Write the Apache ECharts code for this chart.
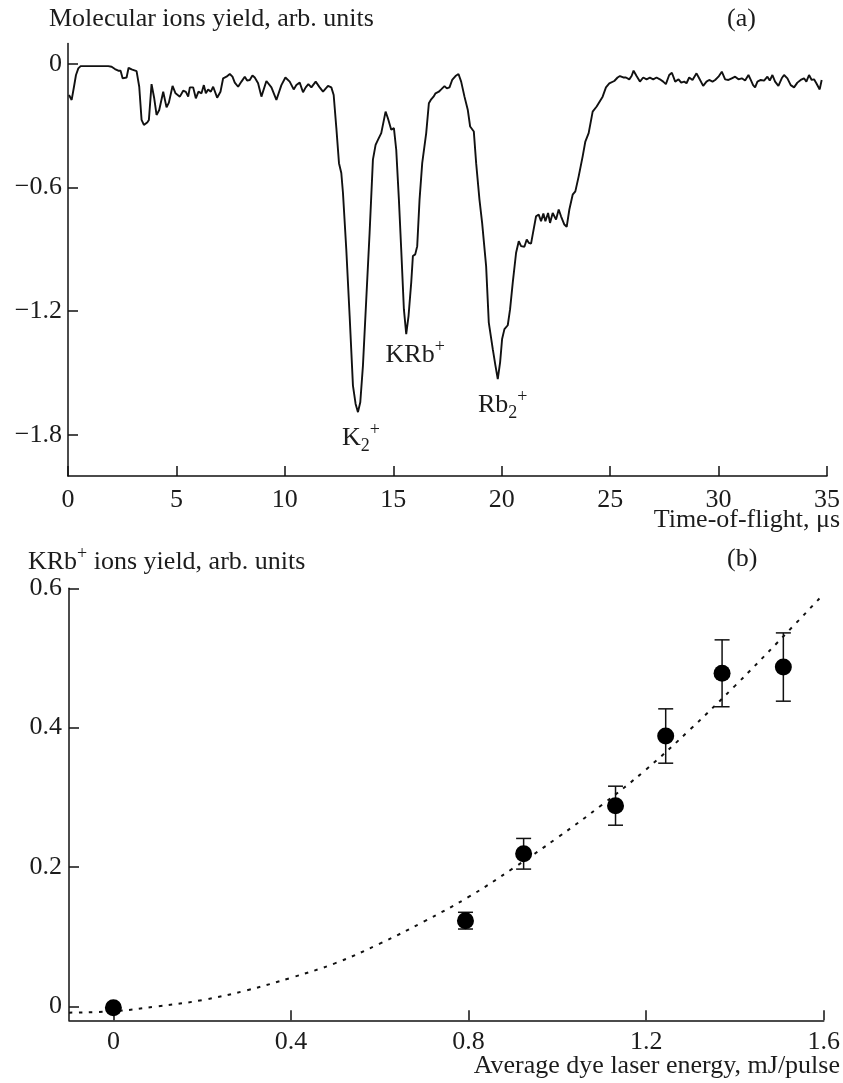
<!DOCTYPE html>
<html>
<head>
<meta charset="utf-8">
<script src="https://cdn.jsdelivr.net/npm/echarts@6/dist/echarts.min.js"></script>
<style>
  html, body { margin: 0; padding: 0; background: #fff; }
  #chart { width: 843px; height: 1083px; }
</style>
</head>
<body>
<div id="chart"></div>
<script>
// ---- (a) time-of-flight spectrum of molecular ions ----
const tofTime = [
  0.046, 0.169, 0.276, 0.368, 0.476, 0.583, 1.857, 2.011, 2.165, 2.318, 2.425, 2.518, 2.610, 2.702, 2.794, 2.932,
  3.162, 3.285, 3.393, 3.500, 3.654, 3.730, 3.853, 3.976, 4.084, 4.207, 4.391, 4.544, 4.652, 4.821, 4.959, 5.158,
  5.312, 5.435, 5.542, 5.619, 5.772, 5.895, 6.018, 6.156, 6.264, 6.356, 6.463, 6.586, 6.694, 6.878, 7.031, 7.154,
  7.308, 7.461, 7.584, 7.691, 7.845, 7.998, 8.152, 8.259, 8.382, 8.505, 8.612, 8.766, 8.919, 9.149, 9.380, 9.610,
  9.840, 10.025, 10.224, 10.408, 10.531, 10.685, 10.838, 10.961, 11.084, 11.222, 11.422, 11.606, 11.760, 11.990,
  12.143, 12.251, 12.374, 12.496, 12.603, 12.680, 12.833, 12.987, 13.140, 13.263, 13.371, 13.478, 13.601, 13.754,
  13.908, 14.061, 14.184, 14.292, 14.445, 14.645, 14.752, 14.906, 15.029, 15.136, 15.259, 15.366, 15.489, 15.597,
  15.704, 15.827, 15.904, 16.011, 16.103, 16.211, 16.334, 16.518, 16.641, 16.748, 16.856, 16.948, 17.101, 17.209,
  17.362, 17.470, 17.592, 17.715, 17.869, 18.007, 18.130, 18.283, 18.437, 18.544, 18.713, 18.821, 18.974, 19.097,
  19.281, 19.404, 19.588, 19.711, 19.818, 19.926, 20.018, 20.125, 20.279, 20.386, 20.509, 20.663, 20.786, 20.893,
  21.046, 21.154, 21.246, 21.353, 21.430, 21.584, 21.707, 21.814, 21.921, 22.014, 22.137, 22.228, 22.351, 22.505,
  22.628, 22.735, 22.889, 22.996, 23.119, 23.272, 23.395, 23.549, 23.733, 23.856, 24.009, 24.194, 24.378, 24.654,
  24.807, 24.961, 25.191, 25.344, 25.452, 25.605, 25.728, 25.882, 25.989, 26.081, 26.219, 26.373, 26.526, 26.680,
  26.833, 26.987, 27.140, 27.294, 27.447, 27.570, 27.724, 27.847, 28.000, 28.154, 28.276, 28.415, 28.522, 28.645,
  28.798, 28.983, 29.105, 29.290, 29.443, 29.566, 29.720, 29.842, 29.996, 30.149, 30.303, 30.456, 30.610, 30.764,
  30.917, 31.070, 31.224, 31.378, 31.485, 31.592, 31.684, 31.792, 31.945, 32.099, 32.252, 32.360, 32.483, 32.606,
  32.759, 32.913, 33.020, 33.174, 33.327, 33.481, 33.634, 33.788, 33.941, 34.049, 34.172, 34.294, 34.402, 34.509,
  34.601, 34.663, 34.755
];
const tofSignal = [
  -0.150, -0.174, -0.110, -0.053, -0.021, -0.010, -0.010, -0.013, -0.024, -0.032, -0.032, -0.069, -0.077, -0.065, -0.018, -0.026,
  -0.034, -0.110, -0.271, -0.295, -0.284, -0.271, -0.097, -0.166, -0.247, -0.223, -0.134, -0.210, -0.187, -0.106, -0.142, -0.158,
  -0.129, -0.135, -0.158, -0.113, -0.113, -0.166, -0.134, -0.142, -0.102, -0.142, -0.123, -0.134, -0.110, -0.163, -0.134, -0.069,
  -0.061, -0.048, -0.061, -0.090, -0.110, -0.085, -0.061, -0.080, -0.077, -0.055, -0.065, -0.093, -0.158, -0.082, -0.113, -0.174,
  -0.102, -0.065, -0.085, -0.123, -0.102, -0.090, -0.137, -0.113, -0.097, -0.113, -0.085, -0.113, -0.134, -0.106,
  -0.113, -0.150, -0.310, -0.481, -0.529, -0.626, -0.900, -1.222, -1.561, -1.650, -1.690, -1.642, -1.464, -1.142,
  -0.819, -0.464, -0.392, -0.368, -0.335, -0.231, -0.263, -0.319, -0.311, -0.416, -0.658, -0.900, -1.190, -1.311,
  -1.222, -1.061, -0.932, -0.924, -0.884, -0.658, -0.481, -0.335, -0.190, -0.171, -0.158, -0.142, -0.134, -0.123,
  -0.107, -0.118, -0.113, -0.077, -0.058, -0.048, -0.085, -0.158, -0.223, -0.303, -0.327, -0.481, -0.658, -0.771,
  -0.981, -1.255, -1.384, -1.464, -1.529, -1.448, -1.335, -1.287, -1.268, -1.190, -1.061, -0.916, -0.860, -0.884,
  -0.887, -0.852, -0.868, -0.872, -0.827, -0.739, -0.731, -0.763, -0.726, -0.763, -0.723, -0.771, -0.723, -0.755,
  -0.706, -0.739, -0.779, -0.790, -0.706, -0.634, -0.618, -0.545, -0.448, -0.376, -0.335, -0.231, -0.206, -0.158,
  -0.113, -0.094, -0.082, -0.065, -0.058, -0.065, -0.065, -0.074, -0.058, -0.032, -0.058, -0.085, -0.065, -0.074,
  -0.066, -0.074, -0.065, -0.074, -0.085, -0.097, -0.053, -0.042, -0.085, -0.074, -0.090, -0.085, -0.093, -0.065,
  -0.077, -0.045, -0.069, -0.106, -0.085, -0.077, -0.085, -0.077, -0.061, -0.037, -0.074, -0.077, -0.069, -0.061,
  -0.074, -0.069, -0.080, -0.053, -0.077, -0.102, -0.113, -0.085, -0.077, -0.080, -0.061, -0.080, -0.053, -0.085,
  -0.106, -0.069, -0.053, -0.069, -0.102, -0.113, -0.090, -0.077, -0.069, -0.085, -0.053, -0.077, -0.074, -0.093,
  -0.085, -0.123, -0.077
];
const tofXTicks = [0, 5, 10, 15, 20, 25, 30, 35];
const tofYTicks = [0, -0.6, -1.2, -1.8];

// peak minima of the three molecular ions
const peakTime = [13.371, 15.597, 19.818];
const peakSignal = [-1.690, -1.311, -1.529];

// ---- (b) KRb+ yield vs dye laser energy ----
const energy = [0, 0.793, 0.924, 1.131, 1.244, 1.371, 1.509];
const yieldKRb = [-0.002, 0.123, 0.219, 0.288, 0.388, 0.478, 0.487];
const yieldErr = [0, 0.012, 0.022, 0.028, 0.039, 0.048, 0.049];
const fitEnergy = [-0.1, 0, 0.1, 0.2, 0.3, 0.4, 0.5, 0.6, 0.7, 0.8, 0.9, 1.0, 1.1, 1.2, 1.3, 1.4, 1.5, 1.6];
const fitYield = [-0.009, -0.007, 0.000, 0.009, 0.023, 0.041, 0.062, 0.090, 0.122, 0.157, 0.198, 0.242, 0.289, 0.340, 0.398, 0.460, 0.525, 0.592];
const energyTicks = [0, 0.4, 0.8, 1.2, 1.6];
const yieldTicks = [0, 0.2, 0.4, 0.6];

// ---- styling ----
const FONT = 'Liberation Serif';
const INK = '#111';
const TEXT = '#1c1c1c';
const FS = 26;

// one-decimal labels with a true minus sign, plain "0" at zero
const fmtDec = v => {
  if (Math.abs(v) < 1e-9) return '0';
  return (v < 0 ? '\u2212' : '') + Math.abs(v).toFixed(1);
};
const fmtInt = v => String(Math.round(v));

function axisCommon(ticks, margin, formatter) {
  return {
    type: 'value',
    axisLine: { show: true, onZero: false, lineStyle: { color: INK, width: 1.5 } },
    axisTick: { show: true, inside: true, length: 10, customValues: ticks, lineStyle: { color: INK, width: 1.5 } },
    axisLabel: { show: true, customValues: ticks, formatter: formatter, margin: margin,
                 fontFamily: FONT, fontSize: FS, color: TEXT },
    splitLine: { show: false }
  };
}

const rich = {
  n:   { fontFamily: FONT, fontSize: FS, fill: TEXT, color: TEXT, lineHeight: 34, verticalAlign: 'middle' },
  sub: { fontFamily: FONT, fontSize: 18, fill: TEXT, color: TEXT, lineHeight: 18, verticalAlign: 'bottom' },
  sup: { fontFamily: FONT, fontSize: 18, fill: TEXT, color: TEXT, lineHeight: 18, verticalAlign: 'top' }
};

const peakLabels = ['{n|K}{sub|2}{sup|+}', '{n|KRb}{sup|+}', '{n|Rb}{sub|2}{sup|+}'];
const peakLabelOffset = [[3, 26], [9, 21], [5, 26]];

const chart = echarts.init(document.getElementById('chart'), null, { renderer: 'canvas' });

const option = {
  animation: false,
  backgroundColor: '#fff',
  grid: [
    { left: 68, top: 43.5, width: 760, height: 432.5 },
    { left: 69, top: 588.3, width: 756.7, height: 432 }
  ],
  xAxis: [
    Object.assign(axisCommon(tofXTicks, 11, fmtInt), { gridIndex: 0, min: 0, max: 35 }),
    Object.assign(axisCommon(energyTicks, 9, fmtDec), { gridIndex: 1, min: -0.1, max: 1.6 })
  ],
  yAxis: [
    Object.assign(axisCommon(tofYTicks, 6, fmtDec), { gridIndex: 0, min: -2.0, max: 0.1 }),
    Object.assign(axisCommon(yieldTicks, 7, fmtDec), { gridIndex: 1, min: -0.02, max: 0.6 })
  ],
  series: [
    {
      name: 'TOF',
      type: 'line',
      xAxisIndex: 0, yAxisIndex: 0,
      data: tofTime.map((t, i) => [t, tofSignal[i]]),
      symbol: 'none',
      lineStyle: { color: INK, width: 1.9 },
      z: 3
    },
    {
      // ion names written just under each peak minimum
      name: 'peaks',
      type: 'custom',
      xAxisIndex: 0, yAxisIndex: 0,
      data: peakTime.map((t, i) => [t, peakSignal[i], i]),
      renderItem: function (params, api) {
        const p = api.coord([api.value(0), api.value(1)]);
        const k = api.value(2);
        const off = peakLabelOffset[k];
        return {
          type: 'text',
          x: p[0] + off[0],
          y: p[1] + off[1],
          style: { text: peakLabels[k], rich: rich, align: 'center', verticalAlign: 'middle', fill: TEXT }
        };
      },
      z: 4
    },
    {
      name: 'fit',
      type: 'line',
      xAxisIndex: 1, yAxisIndex: 1,
      data: fitEnergy.map((e, i) => [e, fitYield[i]]),
      symbol: 'none',
      smooth: 0.4,
      lineStyle: { color: INK, width: 2, type: [3.5, 6.5] },
      z: 2
    },
    {
      name: 'errors',
      type: 'custom',
      xAxisIndex: 1, yAxisIndex: 1,
      data: energy.map((e, i) => [e, yieldKRb[i] - yieldErr[i], yieldKRb[i] + yieldErr[i]]),
      renderItem: function (params, api) {
        const x = api.value(0), lo = api.value(1), hi = api.value(2);
        if (hi - lo < 1e-9) return null;
        const a = api.coord([x, lo]);
        const b = api.coord([x, hi]);
        const w = 7.5;
        const st = { stroke: INK, lineWidth: 1.5 };
        return {
          type: 'group',
          children: [
            { type: 'line', shape: { x1: a[0], y1: a[1], x2: b[0], y2: b[1] }, style: st },
            { type: 'line', shape: { x1: a[0] - w, y1: a[1], x2: a[0] + w, y2: a[1] }, style: st },
            { type: 'line', shape: { x1: b[0] - w, y1: b[1], x2: b[0] + w, y2: b[1] }, style: st }
          ]
        };
      },
      z: 3
    },
    {
      name: 'KRb+',
      type: 'scatter',
      xAxisIndex: 1, yAxisIndex: 1,
      data: energy.map((e, i) => [e, yieldKRb[i]]),
      symbol: 'circle',
      symbolSize: 17,
      itemStyle: { color: '#000', opacity: 1 },
      emphasis: { disabled: true },
      z: 5
    }
  ],
  graphic: [
    { type: 'text', left: 49, top: 6,
      style: { text: 'Molecular ions yield, arb. units', font: FS + 'px "' + FONT + '"', fill: TEXT } },
    { type: 'text', left: 727, top: 6,
      style: { text: '(a)', font: FS + 'px "' + FONT + '"', fill: TEXT } },
    { type: 'text', right: 3, top: 507,
      style: { text: 'Time-of-flight, \u03bcs', font: FS + 'px "' + FONT + '"', fill: TEXT } },
    { type: 'text', left: 28, top: 545,
      style: { text: '{n|KRb}{sup|+}{n| ions yield, arb. units}', rich: rich } },
    { type: 'text', left: 727, top: 546,
      style: { text: '(b)', font: FS + 'px "' + FONT + '"', fill: TEXT } },
    { type: 'text', right: 3, top: 1053,
      style: { text: 'Average dye laser energy, mJ/pulse', font: FS + 'px "' + FONT + '"', fill: TEXT } }
  ]
};

chart.setOption(option);
</script>
</body>
</html>
